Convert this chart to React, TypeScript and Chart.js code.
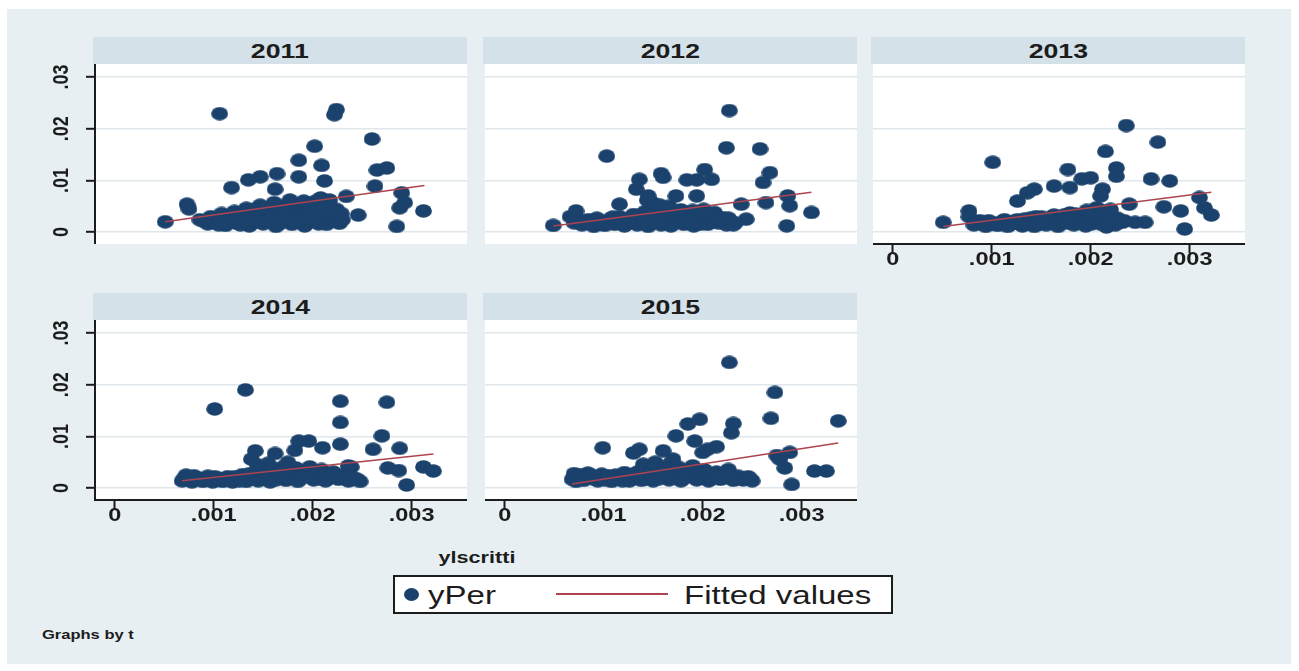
import { useEffect, useRef } from "react";
import { Chart, registerables } from "chart.js";

Chart.register(...registerables);

type Pt = [number, number];

// ---- data -------------------------------------------------------------
const panelYears = ["2011", "2012", "2013", "2014", "2015"];

const yPer2011: Pt[] = [
  [0.00051, 0.0020], [0.00073, 0.0054], [0.00075, 0.0045], [0.00106, 0.0229], [0.00224, 0.0237],
  [0.00222, 0.0227], [0.0026, 0.018], [0.00202, 0.0166], [0.00186, 0.0139], [0.00209, 0.0129],
  [0.00186, 0.0107], [0.00212, 0.0099], [0.00164, 0.0113], [0.00147, 0.0107], [0.00135, 0.0101],
  [0.00118, 0.0086], [0.00162, 0.0083], [0.00275, 0.0124], [0.00265, 0.0120], [0.00263, 0.0089],
  [0.0029, 0.0076], [0.00293, 0.0057], [0.00288, 0.0047], [0.00312, 0.0041], [0.00285, 0.0011],
  [0.00234, 0.0069], [0.00246, 0.0033], [0.00226, 0.0025],
  [0.00086, 0.0024], [0.00094, 0.0016], [0.00097, 0.0030], [0.00103, 0.0019], [0.00108, 0.0036],
  [0.00112, 0.0013], [0.00116, 0.0026], [0.00121, 0.0040], [0.00124, 0.0017], [0.00129, 0.0031],
  [0.00133, 0.0046], [0.00136, 0.0012], [0.0014, 0.0023], [0.00144, 0.0037], [0.00147, 0.0052],
  [0.0015, 0.0016], [0.00154, 0.0029], [0.00158, 0.0043], [0.00161, 0.0057], [0.00163, 0.0011],
  [0.00167, 0.0022], [0.0017, 0.0035], [0.00174, 0.0049], [0.00177, 0.0062], [0.00179, 0.0015],
  [0.00183, 0.0027], [0.00186, 0.0040], [0.00189, 0.0054], [0.00192, 0.0012], [0.00195, 0.0021],
  [0.00198, 0.0033], [0.00201, 0.0046], [0.00203, 0.0060], [0.00206, 0.0016], [0.00209, 0.0027],
  [0.00212, 0.0039], [0.00215, 0.0052], [0.00218, 0.0021], [0.00221, 0.0032], [0.00224, 0.0044],
  [0.00227, 0.0017], [0.00229, 0.0036],
  [0.0009, 0.0021], [0.00099, 0.0025], [0.00105, 0.0014], [0.0011, 0.0029], [0.00114, 0.0020],
  [0.00118, 0.0033], [0.00123, 0.0026], [0.00127, 0.0014], [0.00131, 0.0038], [0.00134, 0.0021],
  [0.00138, 0.0030], [0.00142, 0.0045], [0.00146, 0.0019], [0.00149, 0.0034], [0.00152, 0.0047],
  [0.00156, 0.0021], [0.0016, 0.0036], [0.00164, 0.0050], [0.00166, 0.0016], [0.00169, 0.0029],
  [0.00172, 0.0042], [0.00176, 0.0055], [0.00181, 0.0021], [0.00184, 0.0033], [0.00188, 0.0047],
  [0.00191, 0.0060], [0.00194, 0.0027], [0.00197, 0.0040], [0.002, 0.0053], [0.00204, 0.0022],
  [0.00207, 0.0034], [0.00211, 0.0046], [0.00214, 0.0015], [0.00217, 0.0028], [0.0022, 0.0040],
  [0.00223, 0.0025], [0.00226, 0.0030], [0.0023, 0.0024], [0.00217, 0.0062], [0.00208, 0.0066],
];

const yPer2012: Pt[] = [
  [0.00227, 0.0235], [0.00224, 0.0163], [0.00258, 0.0161], [0.00103, 0.0147], [0.00158, 0.0113],
  [0.00184, 0.0101], [0.00202, 0.0121], [0.00209, 0.0102], [0.00268, 0.0115], [0.00261, 0.0096],
  [0.00136, 0.0102], [0.00133, 0.0083], [0.00173, 0.0070], [0.00194, 0.0070], [0.00116, 0.0054],
  [0.00239, 0.0054], [0.00264, 0.0057], [0.00286, 0.0070], [0.00288, 0.0051], [0.0031, 0.0038],
  [0.00285, 0.0012], [0.00049, 0.0013], [0.00072, 0.0041], [0.00244, 0.0025], [0.00194, 0.0101],
  [0.0016, 0.0106], [0.00145, 0.0070],
  [0.00066, 0.0030], [0.0007, 0.0018], [0.00078, 0.0014], [0.00084, 0.0024], [0.0009, 0.0011],
  [0.00096, 0.0020], [0.00101, 0.0013], [0.00106, 0.0025], [0.00111, 0.0015], [0.00116, 0.0030],
  [0.00121, 0.0012], [0.00125, 0.0022], [0.0013, 0.0034], [0.00134, 0.0014], [0.00138, 0.0026],
  [0.00142, 0.0040], [0.00145, 0.0011], [0.00149, 0.0020], [0.00152, 0.0032], [0.00155, 0.0046],
  [0.00158, 0.0014], [0.00162, 0.0025], [0.00165, 0.0037], [0.00168, 0.0012], [0.00172, 0.0021],
  [0.00175, 0.0030], [0.00178, 0.0043], [0.00181, 0.0015], [0.00185, 0.0025], [0.00188, 0.0036],
  [0.00191, 0.0012], [0.00195, 0.0020], [0.00198, 0.0031], [0.00201, 0.0044], [0.00205, 0.0015],
  [0.00209, 0.0026], [0.00212, 0.0038], [0.00216, 0.0018], [0.0022, 0.0028], [0.00224, 0.0014],
  [0.00228, 0.0022], [0.00233, 0.0018], [0.0015, 0.0056], [0.00166, 0.0050], [0.00144, 0.0062],
  [0.00074, 0.0024], [0.00081, 0.0019], [0.00087, 0.0016], [0.00093, 0.0027], [0.00098, 0.0017],
  [0.00104, 0.0020], [0.00109, 0.0029], [0.00113, 0.0020], [0.00119, 0.0025], [0.00123, 0.0017],
  [0.00128, 0.0028], [0.00132, 0.0020], [0.00136, 0.0033], [0.0014, 0.0018], [0.00143, 0.0030],
  [0.00147, 0.0044], [0.00151, 0.0025], [0.00154, 0.0038], [0.00157, 0.0052], [0.0016, 0.0019],
  [0.00164, 0.0031], [0.00167, 0.0043], [0.0017, 0.0016], [0.00174, 0.0026], [0.00177, 0.0036],
  [0.0018, 0.0021], [0.00183, 0.0031], [0.00187, 0.0019], [0.0019, 0.0042], [0.00193, 0.0027],
  [0.00197, 0.0015], [0.002, 0.0036], [0.00203, 0.0022], [0.00207, 0.0032], [0.00211, 0.0020],
  [0.00214, 0.0027], [0.00218, 0.0023], [0.00222, 0.0019], [0.00226, 0.0027], [0.00231, 0.0014],
];

const yPer2013: Pt[] = [
  [0.00236, 0.0206], [0.00268, 0.0174], [0.00215, 0.0156], [0.00101, 0.0135], [0.00226, 0.0124],
  [0.00226, 0.0108], [0.00177, 0.0121], [0.002, 0.0105], [0.00191, 0.0103], [0.00179, 0.0086],
  [0.00163, 0.0089], [0.00143, 0.0083], [0.00136, 0.0076], [0.00126, 0.0060], [0.00212, 0.0083],
  [0.0021, 0.0070], [0.00261, 0.0103], [0.0028, 0.0099], [0.00239, 0.0054], [0.00274, 0.0049],
  [0.00291, 0.0041], [0.0031, 0.0067], [0.00315, 0.0047], [0.00322, 0.0033], [0.00295, 0.0006],
  [0.00051, 0.0019], [0.00077, 0.0041], [0.00077, 0.0030], [0.00232, 0.0019], [0.00245, 0.0019],
  [0.00255, 0.0019],
  [0.00082, 0.0014], [0.00088, 0.0022], [0.00094, 0.0011], [0.001, 0.0018], [0.00106, 0.0013],
  [0.00111, 0.0021], [0.00116, 0.0011], [0.00121, 0.0017], [0.00126, 0.0024], [0.00131, 0.0012],
  [0.00135, 0.0019], [0.00139, 0.0027], [0.00143, 0.0011], [0.00147, 0.0020], [0.00151, 0.0029],
  [0.00155, 0.0014], [0.00159, 0.0023], [0.00163, 0.0033], [0.00167, 0.0011], [0.00171, 0.0019],
  [0.00175, 0.0028], [0.00179, 0.0037], [0.00183, 0.0014], [0.00187, 0.0023], [0.00191, 0.0032],
  [0.00195, 0.0012], [0.00199, 0.0020], [0.00203, 0.0029], [0.00207, 0.0039], [0.00211, 0.0015],
  [0.00215, 0.0024], [0.00219, 0.0034], [0.00223, 0.0018], [0.00227, 0.0027], [0.0022, 0.0044],
  [0.00206, 0.0047], [0.00234, 0.0022], [0.00216, 0.0010],
  [0.00085, 0.0018], [0.00091, 0.0015], [0.00097, 0.0022], [0.00103, 0.0015], [0.00108, 0.0018],
  [0.00113, 0.0024], [0.00118, 0.0014], [0.00123, 0.0021], [0.00128, 0.0017], [0.00133, 0.0025],
  [0.00137, 0.0015], [0.00141, 0.0022], [0.00145, 0.0030], [0.00149, 0.0016], [0.00153, 0.0025],
  [0.00157, 0.0019], [0.00161, 0.0029], [0.00165, 0.0015], [0.00169, 0.0024], [0.00173, 0.0033],
  [0.00177, 0.0018], [0.00181, 0.0027], [0.00185, 0.0035], [0.00189, 0.0017], [0.00193, 0.0026],
  [0.00197, 0.0036], [0.00201, 0.0016], [0.00205, 0.0025], [0.00209, 0.0033], [0.00213, 0.0020],
  [0.00217, 0.0029], [0.00221, 0.0024], [0.00225, 0.0014], [0.00229, 0.0020], [0.00213, 0.0041],
  [0.00196, 0.0042],
];

const yPer2014: Pt[] = [
  [0.00132, 0.0190], [0.00101, 0.0153], [0.00228, 0.0168], [0.00275, 0.0166], [0.00228, 0.0127],
  [0.0027, 0.0101], [0.00228, 0.0085], [0.00288, 0.0077], [0.00261, 0.0075], [0.00196, 0.0091],
  [0.0021, 0.0078], [0.00182, 0.0073], [0.00162, 0.0067], [0.00142, 0.0072], [0.00138, 0.0056],
  [0.00239, 0.0041], [0.00276, 0.0039], [0.00287, 0.0034], [0.00312, 0.0041], [0.00322, 0.0033],
  [0.00295, 0.0006], [0.00236, 0.0043], [0.00186, 0.0091],
  [0.00068, 0.0014], [0.00072, 0.0025], [0.00078, 0.0012], [0.00083, 0.0020], [0.00089, 0.0013],
  [0.00094, 0.0023], [0.00099, 0.0012], [0.00104, 0.0019], [0.00109, 0.0013], [0.00114, 0.0022],
  [0.00119, 0.0012], [0.00124, 0.0018], [0.00129, 0.0026], [0.00133, 0.0013], [0.00137, 0.0021],
  [0.00141, 0.0030], [0.00145, 0.0014], [0.00149, 0.0023], [0.00153, 0.0033], [0.00157, 0.0012],
  [0.00161, 0.0020], [0.00165, 0.0029], [0.00169, 0.0040], [0.00173, 0.0015], [0.00177, 0.0024],
  [0.00181, 0.0034], [0.00185, 0.0013], [0.00189, 0.0021], [0.00193, 0.0030], [0.00197, 0.0041],
  [0.00201, 0.0016], [0.00205, 0.0026], [0.00209, 0.0036], [0.00213, 0.0014], [0.00217, 0.0022],
  [0.00221, 0.0031], [0.00226, 0.0017], [0.00231, 0.0025], [0.00236, 0.0014], [0.00242, 0.0019],
  [0.00248, 0.0013], [0.00144, 0.0045], [0.00155, 0.0048], [0.00175, 0.0050],
  [0.0007, 0.0019], [0.00075, 0.0016], [0.0008, 0.0024], [0.00086, 0.0017], [0.00091, 0.0018],
  [0.00096, 0.0016], [0.00101, 0.0022], [0.00106, 0.0016], [0.00111, 0.0018], [0.00116, 0.0016],
  [0.00121, 0.0022], [0.00126, 0.0014], [0.00131, 0.0020], [0.00135, 0.0027], [0.00139, 0.0017],
  [0.00143, 0.0025], [0.00147, 0.0035], [0.00151, 0.0018], [0.00155, 0.0028], [0.00159, 0.0038],
  [0.00163, 0.0016], [0.00167, 0.0024], [0.00171, 0.0033], [0.00175, 0.0020], [0.00179, 0.0029],
  [0.00183, 0.0039], [0.00187, 0.0017], [0.00191, 0.0026], [0.00195, 0.0035], [0.00199, 0.0021],
  [0.00203, 0.0031], [0.00207, 0.0018], [0.00211, 0.0028], [0.00215, 0.0019], [0.00219, 0.0026],
  [0.00223, 0.0021], [0.00229, 0.0019], [0.00234, 0.0020], [0.00239, 0.0016], [0.00245, 0.0017],
];

const yPer2015: Pt[] = [
  [0.00227, 0.0243], [0.00273, 0.0185], [0.00269, 0.0135], [0.00337, 0.0130], [0.00197, 0.0133],
  [0.00185, 0.0124], [0.00231, 0.0125], [0.00229, 0.0107], [0.00173, 0.0101], [0.00192, 0.0091],
  [0.00214, 0.0080], [0.00099, 0.0078], [0.00136, 0.0075], [0.0016, 0.0072], [0.002, 0.0069],
  [0.00288, 0.0069], [0.00278, 0.0056], [0.00283, 0.0039], [0.00313, 0.0033], [0.00325, 0.0033],
  [0.0029, 0.0007], [0.0017, 0.0056], [0.00275, 0.0063], [0.0013, 0.0068], [0.00205, 0.0075],
  [0.00068, 0.0017], [0.0007, 0.0028], [0.00075, 0.0022], [0.0008, 0.0015], [0.00084, 0.0029],
  [0.00089, 0.0020], [0.00094, 0.0014], [0.00098, 0.0027], [0.00103, 0.0019], [0.00108, 0.0013],
  [0.00112, 0.0025], [0.00117, 0.0017], [0.00121, 0.0030], [0.00126, 0.0014], [0.0013, 0.0022],
  [0.00134, 0.0031], [0.00138, 0.0015], [0.00142, 0.0024], [0.00146, 0.0034], [0.0015, 0.0014],
  [0.00154, 0.0022], [0.00158, 0.0031], [0.00162, 0.0042], [0.00166, 0.0016], [0.0017, 0.0025],
  [0.00174, 0.0035], [0.00178, 0.0014], [0.00182, 0.0022], [0.00186, 0.0031], [0.0019, 0.0043],
  [0.00194, 0.0016], [0.00198, 0.0025], [0.00202, 0.0035], [0.00206, 0.0014], [0.0021, 0.0022],
  [0.00214, 0.0031], [0.00218, 0.0017], [0.00222, 0.0026], [0.00226, 0.0036], [0.00231, 0.0015],
  [0.00236, 0.0023], [0.00241, 0.0016], [0.00246, 0.0022], [0.0025, 0.0014], [0.0014, 0.0046],
  [0.00152, 0.0050],
  [0.00072, 0.0013], [0.00077, 0.0026], [0.00082, 0.0020], [0.00087, 0.0025], [0.00091, 0.0017],
  [0.00096, 0.0022], [0.00101, 0.0016], [0.00105, 0.0024], [0.0011, 0.0019], [0.00115, 0.0021],
  [0.00119, 0.0014], [0.00124, 0.0025], [0.00128, 0.0018], [0.00132, 0.0027], [0.00136, 0.0020],
  [0.0014, 0.0030], [0.00144, 0.0018], [0.00148, 0.0028], [0.00152, 0.0039], [0.00156, 0.0018],
  [0.0016, 0.0027], [0.00164, 0.0036], [0.00168, 0.0020], [0.00172, 0.0030], [0.00176, 0.0040],
  [0.0018, 0.0018], [0.00184, 0.0027], [0.00188, 0.0037], [0.00192, 0.0020], [0.00196, 0.0030],
  [0.002, 0.0019], [0.00204, 0.0028], [0.00208, 0.0018], [0.00212, 0.0026], [0.00216, 0.0022],
  [0.0022, 0.0019], [0.00224, 0.0030], [0.00228, 0.0020], [0.00233, 0.0019], [0.00238, 0.0018],
  [0.00243, 0.0019], [0.00248, 0.0018],
];

// linear fit endpoints per year
const fitted2011: Pt[] = [[0.00051, 0.0020], [0.00313, 0.0090]];
const fitted2012: Pt[] = [[0.00049, 0.0012], [0.0031, 0.0077]];
const fitted2013: Pt[] = [[0.00051, 0.0011], [0.00322, 0.0077]];
const fitted2014: Pt[] = [[0.00068, 0.0014], [0.00322, 0.0066]];
const fitted2015: Pt[] = [[0.00068, 0.0008], [0.00337, 0.0087]];

const xTickValues = [0, 0.001, 0.002, 0.003];
const xTickLabels = ["0", ".001", ".002", ".003"];
const yTickValues = [0, 0.01, 0.02, 0.03];
const yTickLabels = ["0", ".01", ".02", ".03"];
const xTitle = "ylscritti";
const legendLabels = ["yPer", "Fitted values"];
const byNote = "Graphs by t";

// ---- styling ----------------------------------------------------------
const X_MIN = -0.0002;
const X_MAX = 0.00356;
const Y_MIN = -0.0023;
const Y_MAX = 0.0325;

const BG = "#e8eff2";
const STRIP = "#d5e1e8";
const NAVY = "#1b426c";
const FIT = "#ad4450";
const INK = "#1c1c1c";
const GRID = "#dfe7eb";
const FONT = '"Liberation Sans", Arial, sans-serif';
const STRETCH = 1.27;

const PLOT_W = 372;
const PLOT_H = 180;
const HEADER_H = 27;
const AXIS_W = 70;
const AXIS_H = 40;

type PanelCfg = {
  title: string;
  pts: Pt[];
  fit: Pt[];
  left: number;
  top: number;
  showX: boolean;
  showY: boolean;
};

const PANELS: PanelCfg[] = [
  { title: panelYears[0], pts: yPer2011, fit: fitted2011, left: 95, top: 64, showX: false, showY: true },
  { title: panelYears[1], pts: yPer2012, fit: fitted2012, left: 485, top: 64, showX: false, showY: false },
  { title: panelYears[2], pts: yPer2013, fit: fitted2013, left: 873, top: 64, showX: true, showY: false },
  { title: panelYears[3], pts: yPer2014, fit: fitted2014, left: 95, top: 320, showX: true, showY: true },
  { title: panelYears[4], pts: yPer2015, fit: fitted2015, left: 485, top: 320, showX: true, showY: false },
];

let markerCanvas: HTMLCanvasElement | null = null;
function markerImage(): HTMLCanvasElement {
  if (!markerCanvas) {
    const c = document.createElement("canvas");
    c.width = 17;
    c.height = 14;
    const g = c.getContext("2d")!;
    g.fillStyle = NAVY;
    g.beginPath();
    g.ellipse(8.5, 7, 8.4, 6.8, 0, 0, Math.PI * 2);
    g.fill();
    markerCanvas = c;
  }
  return markerCanvas;
}

// white plot region underneath, stretched tick labels on top
const panelFrame = {
  id: "panelFrame",
  beforeDraw(chart: any) {
    const { ctx, chartArea } = chart;
    ctx.save();
    ctx.fillStyle = "#ffffff";
    ctx.fillRect(chartArea.left, chartArea.top, chartArea.right - chartArea.left, chartArea.bottom - chartArea.top);
    ctx.restore();
  },
  afterDraw(chart: any, _args: any, opts: any) {
    const { ctx, chartArea, scales } = chart;
    ctx.save();
    ctx.fillStyle = INK;
    ctx.textAlign = "center";
    ctx.textBaseline = "middle";
    if (opts.showX) {
      ctx.font = `bold 18.5px ${FONT}`;
      xTickValues.forEach((v, i) => {
        const px = scales.x.getPixelForValue(v);
        ctx.save();
        ctx.translate(px, chartArea.bottom + 16);
        ctx.scale(STRETCH, 1);
        ctx.fillText(xTickLabels[i], 0, 0);
        ctx.restore();
      });
    }
    if (opts.showY) {
      ctx.font = `bold 18px ${FONT}`;
      yTickValues.forEach((v, i) => {
        const py = scales.y.getPixelForValue(v);
        ctx.save();
        ctx.translate(chartArea.left - 33, py);
        ctx.scale(STRETCH, 1);
        ctx.rotate(-Math.PI / 2);
        ctx.fillText(yTickLabels[i], 0, 0);
        ctx.restore();
      });
    }
    ctx.restore();
  },
};

function Panel({ cfg }: { cfg: PanelCfg }) {
  const ref = useRef<HTMLCanvasElement>(null);
  const axisW = cfg.showY ? AXIS_W : 0;
  const axisH = cfg.showX ? AXIS_H : 0;
  const width = PLOT_W + axisW;
  const height = PLOT_H + axisH;

  useEffect(() => {
    const canvas = ref.current;
    if (!canvas) return;
    const chart = new Chart(canvas, {
      type: "scatter",
      data: {
        datasets: [
          {
            type: "line",
            label: legendLabels[1],
            data: cfg.fit.map(([x, y]) => ({ x, y })),
            borderColor: FIT,
            borderWidth: 1.5,
            pointRadius: 0,
            showLine: true,
            fill: false,
            order: 0,
            clip: false,
          } as any,
          {
            label: legendLabels[0],
            data: cfg.pts.map(([x, y]) => ({ x, y })),
            pointStyle: markerImage(),
            pointRadius: 7,
            backgroundColor: NAVY,
            borderWidth: 0,
            order: 1,
            clip: false,
          } as any,
        ],
      },
      options: {
        animation: false,
        responsive: false,
        devicePixelRatio: 1,
        events: [],
        layout: { padding: 0, autoPadding: false },
        plugins: {
          legend: { display: false },
          tooltip: { enabled: false },
          panelFrame: { showX: cfg.showX, showY: cfg.showY },
        } as any,
        scales: {
          x: {
            type: "linear",
            min: X_MIN,
            max: X_MAX,
            display: cfg.showX,
            afterBuildTicks: (s: any) => {
              s.ticks = xTickValues.map((value) => ({ value }));
            },
            afterFit: (s: any) => {
              s.height = cfg.showX ? AXIS_H : 0;
            },
            grid: {
              drawOnChartArea: false,
              drawTicks: true,
              tickLength: 9,
              tickWidth: 2,
              tickColor: INK,
            },
            border: { display: true, color: INK, width: 2 },
            ticks: { display: false },
          },
          y: {
            type: "linear",
            min: Y_MIN,
            max: Y_MAX,
            display: true,
            afterBuildTicks: (s: any) => {
              s.ticks = yTickValues.map((value) => ({ value }));
            },
            afterFit: (s: any) => {
              s.width = cfg.showY ? AXIS_W : 0;
            },
            grid: {
              color: GRID,
              lineWidth: 1.6,
              drawOnChartArea: true,
              drawTicks: cfg.showY,
              tickLength: 9,
              tickWidth: 2,
              tickColor: INK,
            },
            border: { display: cfg.showY, color: INK, width: 2 },
            ticks: { display: false },
          },
        },
      } as any,
      plugins: [panelFrame],
    });
    return () => chart.destroy();
  }, [cfg]);

  return (
    <>
      <div
        style={{
          position: "absolute",
          left: cfg.left - 2,
          top: cfg.top - HEADER_H,
          width: PLOT_W + 2,
          height: HEADER_H,
          background: STRIP,
          display: "flex",
          alignItems: "center",
          justifyContent: "center",
        }}
      >
        <span
          style={{
            display: "inline-block",
            transform: `scaleX(${STRETCH})`,
            font: `bold 21px ${FONT}`,
            color: INK,
            lineHeight: 1,
          }}
        >
          {cfg.title}
        </span>
      </div>
      <canvas
        ref={ref}
        width={width}
        height={height}
        style={{ position: "absolute", left: cfg.left - axisW, top: cfg.top, width, height }}
      />
    </>
  );
}

function Stretched({ text, left, top, size, weight }: { text: string; left: number; top: number; size: number; weight: number }) {
  return (
    <span
      style={{
        position: "absolute",
        left,
        top,
        transform: `translateY(-50%) scaleX(${STRETCH})`,
        transformOrigin: "left center",
        font: `${weight} ${size}px ${FONT}`,
        color: INK,
        whiteSpace: "nowrap",
        lineHeight: 1,
      }}
    >
      {text}
    </span>
  );
}

export default function App() {
  return (
    <div
      style={{
        position: "fixed",
        left: 0,
        top: 0,
        width: 1299,
        height: 671,
        background: "#ffffff",
        overflow: "hidden",
      }}
    >
      <div style={{ position: "absolute", left: 7, top: 9, width: 1284, height: 655, background: BG }} />
      {PANELS.map((p) => (
        <Panel key={p.title} cfg={p} />
      ))}
      <span
        style={{
          position: "absolute",
          left: 477,
          top: 557,
          transform: `translate(-50%, -50%) scaleX(${STRETCH})`,
          font: `bold 17px ${FONT}`,
          color: INK,
          whiteSpace: "nowrap",
          lineHeight: 1,
        }}
      >
        {xTitle}
      </span>
      <div
        style={{
          position: "absolute",
          left: 393,
          top: 575,
          width: 500,
          height: 39,
          boxSizing: "border-box",
          background: "#ffffff",
          border: `2px solid ${INK}`,
        }}
      />
      <div
        style={{
          position: "absolute",
          left: 404,
          top: 588,
          width: 15,
          height: 13,
          borderRadius: "50%",
          background: NAVY,
        }}
      />
      <Stretched text={legendLabels[0]} left={428} top={595} size={26} weight={400} />
      <div style={{ position: "absolute", left: 556, top: 593, width: 112, height: 2, background: FIT }} />
      <Stretched text={legendLabels[1]} left={684} top={595} size={26} weight={400} />
      <Stretched text={byNote} left={42} top={634} size={13} weight={700} />
    </div>
  );
}
